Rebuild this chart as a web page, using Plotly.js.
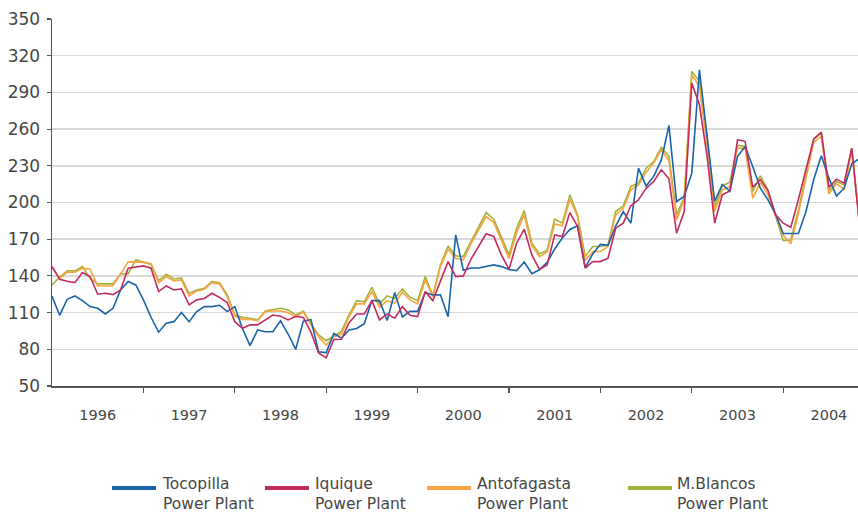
<!DOCTYPE html>
<html>
<head>
<meta charset="utf-8">
<script src="https://cdn.plot.ly/plotly-3.0.1.min.js"></script>
<style>
html,body{margin:0;padding:0;background:#fff;}
#chart{width:858px;height:516px;}
</style>
</head>
<body>
<div id="chart"></div>
<script>
// Monthly series, Jan 1996 .. Nov 2004 (index 0 = Jan 1996)
const years = ["1996","1997","1998","1999","2000","2001","2002","2003","2004"];
const seriesNames = ["Tocopilla<br>Power Plant","Iquique<br>Power Plant","Antofagasta<br>Power Plant","M.Blancos<br>Power Plant"];

const tocopilla = [
123.6,107.8,120.9,123.6,119.8,114.9,113.5,108.9,113.5,128.5,135.4,132.6,
120.4,106.2,94.0,101.3,102.6,110.0,102.6,110.8,114.9,114.9,116.0,110.8,
114.9,97.0,83.0,95.8,94.4,94.4,103.4,92.5,80.0,103.0,104.3,78.0,
77.3,93.0,89.0,95.8,97.0,101.0,119.8,119.8,103.5,126.4,106.5,111.0,
111.0,126.5,124.4,124.6,106.7,173.5,144.6,146.5,146.5,148.0,149.0,147.6,
145.2,144.3,151.3,141.8,145.0,151.0,162.0,171.0,178.0,181.0,147.0,158.0,
165.8,165.0,180.7,192.6,183.1,228.1,213.4,221.3,234.8,263.0,200.8,204.9,
224.0,308.5,255.0,201.0,214.7,209.2,237.6,245.8,229.4,211.7,202.2,190.5,
174.7,174.7,174.7,192.9,218.6,238.2,219.9,205.2,211.7,231.6,236.0];

const iquique = [
147.7,137.3,135.6,134.5,142.7,139.5,125.0,125.8,124.7,128.5,146.3,147.1,
148.2,146.3,127.2,131.8,128.5,129.4,116.3,120.4,121.5,125.8,122.5,118.2,
102.6,97.2,100.0,100.0,104.0,108.0,107.0,104.0,107.0,106.0,94.0,77.0,
73.0,88.0,88.2,101.8,108.9,108.9,119.8,104.0,108.9,105.4,114.9,107.8,
106.7,127.2,119.8,135.4,151.7,139.4,140.0,153.6,164.5,174.4,172.2,157.2,
145.4,166.7,178.2,157.2,145.4,149.0,173.5,172.2,191.8,180.4,146.3,151.7,
151.7,154.4,179.0,183.1,197.3,202.2,211.5,217.2,226.7,219.4,174.9,192.6,
297.6,279.9,238.0,183.1,206.3,209.5,251.3,250.0,212.5,218.6,209.8,189.9,
183.1,179.8,202.7,226.2,251.8,257.5,212.5,219.1,215.8,244.4,182.0];

const antofagasta = [
147.0,138.0,143.0,143.0,146.3,145.5,131.8,131.8,131.8,141.6,151.5,151.5,
151.0,149.5,134.5,139.5,135.9,136.7,123.6,127.7,129.1,134.5,133.5,123.1,
107.3,104.5,104.5,103.4,110.8,111.3,111.3,110.0,106.2,110.8,99.9,90.3,
83.5,90.3,92.5,106.7,117.1,117.1,127.2,114.4,119.8,117.7,126.7,120.4,
117.1,136.8,123.1,147.7,161.8,154.4,153.1,166.2,177.1,188.5,183.6,168.9,
154.2,175.4,189.9,164.5,155.8,159.5,182.5,180.9,202.7,188.5,152.5,159.9,
159.9,164.0,189.9,195.3,210.3,214.4,224.6,232.2,243.1,234.1,185.8,202.2,
304.4,294.9,247.0,192.6,210.3,213.1,244.4,244.5,203.5,216.3,206.3,188.5,
173.5,166.2,191.2,219.9,249.1,254.0,207.1,215.3,210.9,243.1,184.0];

const mblancos = [
132.6,138.9,144.1,144.1,147.6,138.0,133.5,133.5,133.5,141.6,141.6,153.1,
151.7,149.8,136.2,141.4,137.5,138.1,125.8,128.5,129.9,135.4,134.5,124.5,
108.1,106.2,105.4,104.0,111.3,112.2,113.5,112.2,108.1,111.3,100.7,91.7,
87.0,90.9,94.7,108.1,119.8,118.8,130.7,117.1,123.7,121.5,129.4,122.6,
119.8,139.5,123.9,149.0,164.5,156.4,155.8,168.1,179.8,191.8,186.3,171.6,
157.2,179.0,193.4,166.7,158.0,161.0,186.3,183.1,206.3,189.9,155.8,164.0,
164.0,165.3,192.6,197.3,213.1,215.8,228.0,233.5,245.0,237.6,189.9,204.1,
307.2,299.0,252.6,196.7,213.6,216.6,246.6,246.0,209.0,221.8,210.4,189.1,
168.9,169.4,194.0,222.6,251.8,256.7,209.8,217.2,214.4,244.4,186.0];

const colors = ["#1a64aa","#c22c5f","#f7a441","#a5b23a"];
const allSeries = [tocopilla, iquique, antofagasta, mblancos];

const monthIdx = tocopilla.map((_, i) => i);
const yearCenters = years.map((_, k) => 12 * k + 6);
const yearBounds = years.slice(1).map((_, k) => 12 * (k + 1));

const FONT = "DejaVu Sans, sans-serif";
const TXT = "#474747";
const traces = [];
// draw order: green, orange, blue, red
[3, 2, 0, 1].forEach(s => {
  traces.push({
    type: "scatter", mode: "lines", name: seriesNames[s].replace("<br>", " "),
    x: monthIdx, y: allSeries[s],
    line: {color: colors[s], width: 1.6},
    showlegend: false, hoverinfo: "skip"
  });
});

// Legend built as key lines + text (paper coordinates, below the plot)
const W = 806, H = 367;            // plot-area size in px
const px2x = p => (p - 52) / W;
const py2y = p => (386 - p) / H;
const keyStart = [112, 265, 427, 628];
const textStart = [161, 314, 476, 676];
const shapes = [], annotations = [];
seriesNames.forEach((n, s) => {
  shapes.push({
    type: "line", xref: "paper", yref: "paper",
    x0: px2x(keyStart[s]), x1: px2x(keyStart[s] + 44),
    y0: py2y(488), y1: py2y(488),
    line: {color: colors[s], width: 4}
  });
  annotations.push({
    xref: "paper", yref: "paper",
    x: px2x(textStart[s]), y: py2y(494),
    xanchor: "left", yanchor: "middle", align: "left",
    showarrow: false, text: n, borderpad: 0,
    font: {family: FONT, size: 15.5, color: TXT}
  });
});

const layout = {
  width: 858, height: 516,
  margin: {l: 52, r: 0, t: 19, b: 130},
  paper_bgcolor: "#fff", plot_bgcolor: "#fff",
  font: {family: FONT, color: TXT},
  showlegend: false,
  xaxis: {
    range: [0, 105.82], automargin: false,
    tickmode: "array", tickvals: yearCenters, ticktext: years,
    ticks: "", ticklabelstandoff: 15,
    tickfont: {family: FONT, size: 14.5, color: TXT},
    showgrid: false, zeroline: false,
    showline: true, linecolor: "#555", linewidth: 1.5,
    minor: {tickmode: "array", tickvals: yearBounds, ticks: "outside", ticklen: 5, tickcolor: "#555", tickwidth: 1.2, showgrid: false}
  },
  yaxis: {
    range: [50, 350], automargin: false,
    tickmode: "linear", tick0: 50, dtick: 30,
    ticks: "outside", ticklen: 4, tickcolor: "#555", tickwidth: 1.2,
    ticklabelstandoff: 3,
    tickfont: {family: FONT, size: 17, color: TXT},
    showgrid: true, gridcolor: "#d9d9d9", gridwidth: 1.5,
    zeroline: false, showline: true, linecolor: "#555", linewidth: 1.5
  },
  shapes: shapes,
  annotations: annotations
};

Plotly.newPlot("chart", traces, layout, {displayModeBar: false, staticPlot: true});
</script>
</body>
</html>
